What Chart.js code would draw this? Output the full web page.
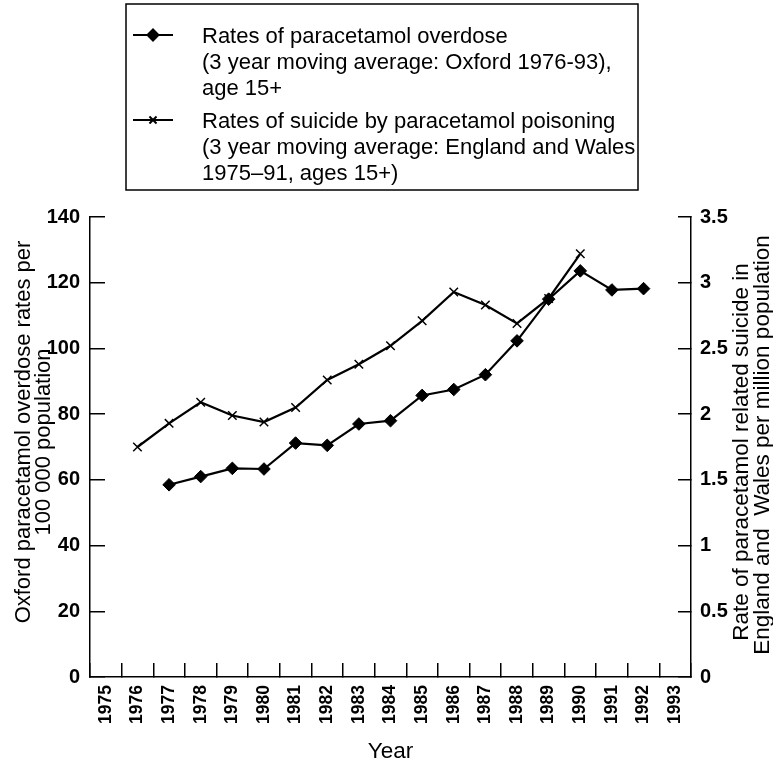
<!DOCTYPE html>
<html>
<head>
<meta charset="utf-8">
<script src="https://cdn.jsdelivr.net/npm/chart.js@4.4.1/dist/chart.umd.min.js"></script>
<style>
  html, body { margin: 0; padding: 0; background: #fff; }
  #wrap { width: 773px; height: 765px; position: relative; }
</style>
</head>
<body>
<div id="wrap"><canvas id="myChart" width="773" height="765"></canvas></div>
<script>
// years on the x axis
let years=["1975","1976","1977","1978","1979","1980","1981","1982","1983","1984",
           "1985","1986","1987","1988","1989","1990","1991","1992","1993"];

// Oxford paracetamol overdose, per 100 000 (left axis), 3 year moving average 1976-93
let overdoseRates=[null,null,58.5,61,63.5,63.3,71.2,70.5,77,78,85.7,87.5,92,102.3,115,123.6,117.8,118.2,null];

// suicide by paracetamol poisoning, per million (right axis), 3 year moving average 1975-91
let suicideRates=[null,1.75,1.93,2.09,1.99,1.94,2.05,2.26,2.38,2.52,2.71,2.93,2.83,2.69,2.88,3.22,null,null,null];

let leftTicks=[0,20,40,60,80,100,120,140];
let rightTicks=[0,0.5,1,1.5,2,2.5,3,3.5];

let legendLines=[
    ["Rates of paracetamol overdose","(3 year moving average: Oxford 1976-93),","age 15+"],
    ["Rates of suicide by paracetamol poisoning","(3 year moving average: England and Wales","1975\u201391, ages 15+)"]
];
let leftTitle=["Oxford paracetamol overdose rates per","100 000 population"];
let rightTitle=["Rate of paracetamol related suicide in","England and  Wales per million population"];

const FONT="'Liberation Sans', Arial, Helvetica, sans-serif";

// draws the boxed legend and the axis titles
const extras={
    id:'extras',
    afterDraw(chart){
        const ctx=chart.ctx;
        const area=chart.chartArea;
        ctx.save();
        ctx.fillStyle='#000';
        ctx.strokeStyle='#000';

        // legend box
        ctx.lineWidth=1.5;
        ctx.strokeRect(126,4,512,186);
        ctx.font="22px "+FONT;
        ctx.textBaseline='alphabetic';
        ctx.textAlign='left';
        let startY=[35,120];
        chart.data.datasets.forEach((ds,i)=>{
            let y=startY[i];
            ctx.lineWidth=2;
            ctx.beginPath();
            ctx.moveTo(133,y);
            ctx.lineTo(173,y);
            ctx.stroke();
            Chart.helpers.drawPoint(ctx,{pointStyle:ds.pointStyle,radius:i==0?5.5:5,borderWidth:1.5,rotation:0},153,y);
            legendLines[i].forEach((t,k)=>{
                ctx.fillText(t,202,y+8+k*26);
            });
        });

        // left axis title, two lines reading upwards
        ctx.font="22px "+FONT;
        ctx.textAlign='center';
        ctx.save();
        ctx.translate(29.5,432);
        ctx.rotate(-Math.PI/2);
        ctx.fillText(leftTitle[0],0,0);
        ctx.restore();
        ctx.save();
        ctx.translate(49.5,442);
        ctx.rotate(-Math.PI/2);
        ctx.fillText(leftTitle[1],0,0);
        ctx.restore();

        // right axis title (reads bottom to top as well)
        ctx.font="22.5px "+FONT;
        ctx.save();
        ctx.translate(748,452);
        ctx.rotate(-Math.PI/2);
        ctx.fillText(rightTitle[0],0,0);
        ctx.restore();
        ctx.save();
        ctx.translate(769,445);
        ctx.rotate(-Math.PI/2);
        ctx.fillText(rightTitle[1],0,0);
        ctx.restore();

        // x axis title
        ctx.font="22.5px "+FONT;
        ctx.fillText("Year",(area.left+area.right)/2,758);
        ctx.restore();
    }
};

const ctx=document.getElementById('myChart').getContext('2d');
const myChart=new Chart(ctx,{
    type:'line',
    data:{
        labels:years,
        datasets:[{
            label:'Rates of paracetamol overdose',
            data:overdoseRates,
            yAxisID:'y',
            borderColor:'#000',
            backgroundColor:'#000',
            borderWidth:2.2,
            pointStyle:'rectRot',
            pointRadius:6.3,
            pointBorderWidth:1,
            tension:0,
            spanGaps:false
        },{
            label:'Rates of suicide by paracetamol poisoning',
            data:suicideRates,
            yAxisID:'y1',
            borderColor:'#000',
            backgroundColor:'#000',
            borderWidth:2.2,
            pointStyle:'crossRot',
            pointRadius:6,
            pointBorderWidth:1.5,
            tension:0,
            spanGaps:false
        }]
    },
    options:{
        responsive:false,
        animation:false,
        layout:{padding:{top:217,left:0,right:0,bottom:0}},
        plugins:{legend:{display:false},tooltip:{enabled:false},title:{display:false}},
        scales:{
            x:{
                offset:true,
                grid:{offset:true,drawOnChartArea:false,tickLength:-14,color:'#000',lineWidth:1.5},
                border:{color:'#000',width:1.5},
                ticks:{color:'#000',font:{family:FONT,size:17.5,weight:'bold'},minRotation:90,maxRotation:90,padding:22,autoSkip:false},
                afterFit(scale){ scale.height=88; }
            },
            y:{
                position:'left',
                min:0,max:140,
                afterBuildTicks(scale){ scale.ticks=leftTicks.map(v=>({value:v})); },
                grid:{drawOnChartArea:false,tickLength:-15,color:'#000',lineWidth:1.5},
                border:{color:'#000',width:1.5},
                ticks:{color:'#000',font:{family:FONT,size:20,weight:'bold'},padding:25},
                afterFit(scale){ scale.width=90; }
            },
            y1:{
                position:'right',
                min:0,max:3.5,
                afterBuildTicks(scale){ scale.ticks=rightTicks.map(v=>({value:v})); },
                grid:{drawOnChartArea:false,tickLength:-13,color:'#000',lineWidth:1.5},
                border:{color:'#000',width:1.5},
                ticks:{color:'#000',font:{family:FONT,size:20,weight:'bold'},padding:22,
                       callback:(v)=>String(v)},
                afterFit(scale){ scale.width=82; }
            }
        }
    },
    plugins:[extras]
});
</script>
</body>
</html>
